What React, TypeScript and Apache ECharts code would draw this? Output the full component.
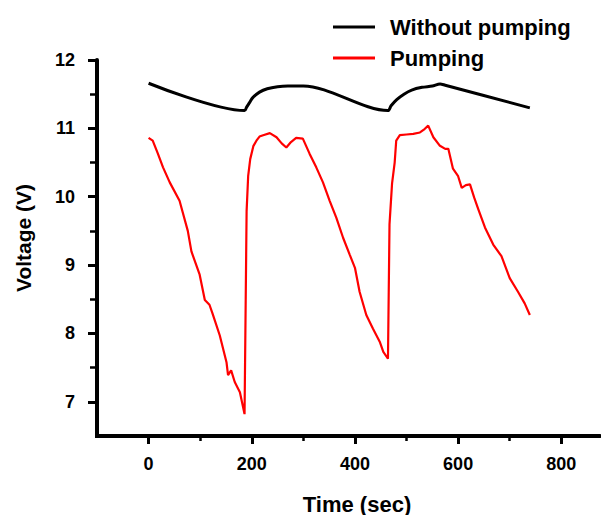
import React, { useEffect, useRef } from "react";
import * as echarts from "echarts";

const timeBlack = [0, 186, 190, 196, 202, 215, 230, 250, 270, 300, 464, 470, 481, 495, 510, 530, 550, 565, 575, 739];
const voltBlack = [11.66, 11.26, 11.31, 11.38, 11.45, 11.53, 11.58, 11.61, 11.62, 11.62, 11.26, 11.33, 11.42, 11.5, 11.56, 11.6, 11.62, 11.65, 11.63, 11.3];

const timeRed = [
  0, 8, 18, 28, 41, 60, 76, 83, 99, 109, 118, 124, 138, 151, 154, 160, 167, 177, 186,
  190, 193, 197, 203, 209, 215, 222, 235, 248, 258, 267, 276, 286, 299,
  312, 325, 338, 351, 364, 377, 390, 400, 409, 422, 435, 448, 455, 464,
  467, 472, 477, 480, 487, 500, 513, 526, 535, 542, 552, 564, 575, 581, 590, 600,
  607, 615, 623, 631, 639, 652, 668, 684, 700, 716, 729, 739,
];
const voltRed = [
  10.86, 10.82, 10.63, 10.43, 10.21, 9.94, 9.5, 9.2, 8.86, 8.49, 8.42, 8.29, 7.97, 7.58, 7.39, 7.46, 7.29, 7.14, 6.82,
  9.79, 10.3, 10.55, 10.74, 10.82, 10.88, 10.9, 10.93, 10.87, 10.78, 10.72, 10.8, 10.86, 10.85,
  10.63, 10.43, 10.21, 9.94, 9.69, 9.4, 9.15, 8.96, 8.61, 8.27, 8.07, 7.88, 7.73, 7.63,
  9.6, 10.2, 10.5, 10.82, 10.9, 10.91, 10.92, 10.94, 10.99, 11.04, 10.87, 10.75, 10.7, 10.7, 10.41, 10.3,
  10.13, 10.17, 10.18, 9.99, 9.82, 9.55, 9.3, 9.13, 8.81, 8.61, 8.44, 8.27,
];

const xMin = -100;
const xMax = 875;
const yMin = 6.5;
const yMax = 12;
const xMajor = [0, 200, 400, 600, 800];
const xMinor = [100, 300, 500, 700];
const yMajor = [7, 8, 9, 10, 11, 12];
const yMinor = [7.5, 8.5, 9.5, 10.5, 11.5];

const seriesNames = ["Without pumping", "Pumping"];

export default function App() {
  const ref = useRef<HTMLDivElement>(null);
  useEffect(() => {
    if (!ref.current) return;
    const chart = echarts.init(ref.current, undefined, { renderer: "svg" });
    const font = "Liberation Sans, Arial, sans-serif";
    const gridBox = { left: 97, right: 1, top: 60, bottom: 79, outerBoundsMode: "none" };
    const xBase = { type: "value", min: xMin, max: xMax, splitLine: { show: false } };
    const yBase = { type: "value", min: yMin, max: yMax, splitLine: { show: false } };
    chart.setOption({
      animation: false,
      backgroundColor: "#ffffff",
      grid: [{ ...gridBox }, { ...gridBox }],
      legend: {
        orient: "vertical",
        left: 328,
        top: 11,
        itemWidth: 42,
        itemHeight: 3,
        itemGap: 9,
        icon: "rect",
        data: seriesNames,
        textStyle: {
          fontFamily: font,
          fontWeight: "bold",
          fontSize: 22,
          lineHeight: 22,
          color: "#000",
          padding: [0, 0, 0, 10],
        },
      },
      xAxis: [
        {
          ...xBase,
          gridIndex: 0,
          position: "bottom",
          name: "Time (sec)",
          nameLocation: "middle",
          nameGap: 57,
          nameTextStyle: { fontFamily: font, fontWeight: "bold", fontSize: 22, color: "#000", padding: [0, 0, 0, 17] },
          axisLine: { show: true, onZero: false, lineStyle: { color: "#000", width: 4 } },
          axisTick: { show: true, customValues: xMajor, length: 8, lineStyle: { color: "#000", width: 3 } },
          axisLabel: { customValues: xMajor, fontFamily: font, fontWeight: "bold", fontSize: 18, color: "#000", margin: 19 },
        },
        {
          ...xBase,
          gridIndex: 1,
          position: "bottom",
          axisLine: { show: false, onZero: false },
          axisTick: { show: true, customValues: xMinor, length: 5, lineStyle: { color: "#000", width: 2.5 } },
          axisLabel: { show: false, customValues: xMinor },
        },
      ],
      yAxis: [
        {
          ...yBase,
          gridIndex: 0,
          position: "left",
          name: "Voltage (V)",
          nameLocation: "middle",
          nameGap: 63,
          nameRotate: 90,
          nameTextStyle: { fontFamily: font, fontWeight: "bold", fontSize: 21, color: "#000", padding: [0, 0, 0, 20] },
          axisLine: { show: true, onZero: false, lineStyle: { color: "#000", width: 4 } },
          axisTick: { show: true, customValues: yMajor, length: 9, lineStyle: { color: "#000", width: 3 } },
          axisLabel: { customValues: yMajor, fontFamily: font, fontWeight: "bold", fontSize: 18, color: "#000", margin: 22 },
        },
        {
          ...yBase,
          gridIndex: 1,
          position: "left",
          axisLine: { show: false, onZero: false },
          axisTick: { show: true, customValues: yMinor, length: 7, lineStyle: { color: "#000", width: 2.5 } },
          axisLabel: { show: false, customValues: yMinor },
        },
      ],
      series: [
        {
          name: seriesNames[0],
          type: "line",
          xAxisIndex: 0,
          yAxisIndex: 0,
          showSymbol: false,
          smooth: 0.3,
          color: "#000000",
          lineStyle: { color: "#000000", width: 3 },
          data: timeBlack.map((t, i) => [t, voltBlack[i]]),
        },
        {
          name: seriesNames[1],
          type: "line",
          xAxisIndex: 0,
          yAxisIndex: 0,
          showSymbol: false,
          color: "#ff0000",
          lineStyle: { color: "#ff0000", width: 2.2 },
          data: timeRed.map((t, i) => [t, voltRed[i]]),
        },
      ],
    });
    const pBottom = chart.convertToPixel({ gridIndex: 0 }, [xMin, yMin]) as number[];
    const pTop = chart.convertToPixel({ gridIndex: 0 }, [xMin, yMax]) as number[];
    if (pBottom && pTop) {
      chart.setOption({
        graphic: [
          {
            type: "line",
            z: 100,
            silent: true,
            shape: { x1: pBottom[0], y1: pBottom[1] + 2, x2: pTop[0], y2: pTop[1] },
            style: { stroke: "#000000", lineWidth: 4 },
          },
        ],
      });
    }
    return () => chart.dispose();
  }, []);
  return (
    <div
      ref={ref}
      style={{ position: "fixed", left: 0, top: 0, width: 601, height: 515, background: "#fff" }}
    />
  );
}
